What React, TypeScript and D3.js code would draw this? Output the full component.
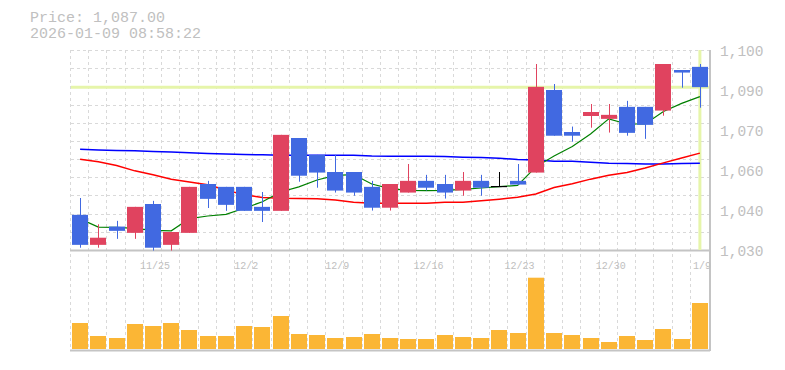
import React from "react";
import * as d3 from "d3";

const dates = ["11/18","11/19","11/20","11/21","11/25","11/26","11/27","11/28","12/1","12/2","12/3","12/4","12/5","12/8","12/9","12/10","12/11","12/12","12/15","12/16","12/17","12/18","12/19","12/22","12/23","12/24","12/25","12/26","12/29","12/30","1/5","1/6","1/7","1/8","1/9"];

const opens = [1042.3,1031.8,1038.2,1036.0,1046.1,1031.8,1036.0,1053.1,1052.1,1052.1,1045.1,1043.7,1069.2,1063.3,1057.3,1057.3,1052.1,1044.8,1050.1,1054.2,1053.1,1050.8,1054.2,1052.2,1054.2,1057.1,1086.0,1071.3,1076.9,1075.9,1080.1,1080.1,1078.8,1093.0,1094.1];
const highs = [1048.2,1039.0,1040.2,1045.1,1047.2,1036.3,1052.1,1054.2,1052.1,1052.1,1050.3,1070.3,1069.2,1063.3,1063.3,1057.3,1054.2,1053.1,1060.1,1056.3,1056.3,1057.3,1056.3,1057.3,1060.1,1095.1,1088.1,1073.2,1081.1,1081.1,1082.2,1080.1,1095.1,1093.0,1095.1];
const lows = [1030.8,1030.8,1033.9,1033.9,1029.8,1029.8,1036.0,1044.7,1043.7,1043.7,1039.8,1043.7,1053.9,1051.8,1050.1,1049.0,1043.8,1043.8,1050.1,1050.8,1048.0,1049.0,1049.0,1052.2,1052.9,1057.1,1070.0,1067.9,1072.8,1071.1,1070.0,1068.9,1077.0,1086.8,1079.8];
const closes = [1031.8,1034.3,1036.7,1045.1,1030.8,1036.3,1052.1,1047.9,1045.8,1043.7,1043.7,1070.3,1056.0,1057.1,1050.8,1050.1,1044.8,1053.1,1054.2,1051.8,1050.1,1054.2,1051.8,1052.2,1052.9,1087.1,1070.0,1070.0,1078.3,1077.3,1071.0,1073.8,1095.1,1092.1,1087.0];
const volumes = [26000,13000,11000,25000,23000,26000,19000,13000,13000,23000,22000,33000,15000,14000,11000,12000,15000,11000,10000,10000,14000,12000,11000,19000,16000,71300,16000,14000,11000,7000,13000,9000,20000,10000,46000];

const maShort = [1040.9,1038.0,1037.9,1037.6,1036.9,1036.7,1041.0,1041.9,1042.5,1044.6,1046.9,1050.3,1052.1,1054.5,1056.1,1056.4,1053.1,1051.5,1050.9,1050.8,1050.9,1051.2,1051.7,1052.2,1052.6,1059.1,1062.9,1066.2,1070.6,1075.9,1074.1,1074.1,1078.5,1081.3,1083.7];
const maMid = [1061.8,1060.9,1059.6,1057.7,1056.3,1054.8,1053.8,1052.8,1051.0,1049.3,1048.4,1048.1,1048.0,1047.9,1047.5,1046.7,1046.4,1046.4,1046.4,1046.4,1046.7,1046.7,1047.2,1047.8,1048.5,1049.6,1051.9,1053.2,1054.8,1056.2,1057.1,1058.7,1060.5,1062.2,1063.9];
const maLong = [1065.3,1065.0,1064.8,1064.7,1064.5,1064.3,1064.0,1063.8,1063.6,1063.4,1063.3,1063.2,1063.2,1063.2,1063.2,1063.2,1062.9,1062.8,1062.8,1062.8,1062.7,1062.5,1062.4,1062.1,1061.7,1061.5,1061.1,1061.1,1060.7,1060.4,1060.3,1060.1,1060.1,1060.3,1060.4];

const xTickLabels = ["11/25","12/2","12/9","12/16","12/23","12/30","1/9"];
const yTickValues = [1030,1044,1058,1072,1086,1100];
const yTickLabels = ["1,030","1,040","1,060","1,070","1,090","1,100"];

const currentPrice = 1087;
const titleLine1 = "Price: 1,087.00";
const titleLine2 = "2026-01-09 08:58:22";

const W = 785, H = 370;
const L = 71, R = 709;
const PT = 50, PB = 250;
const VT = 271, VB = 349;

const UP = "#e0435f";
const DOWN = "#4169e1";
const GRID = "#d9d9d9";
const AXIS = "#c4c4c4";
const TEXT = "#c0c0c0";
const HL = "#e6f5aa";

export default function App() {
  const x = d3.scaleBand<string>().domain(dates).range([L, R]).padding(0);
  const bw = x.bandwidth();
  const cx = (d: string) => (x(d) as number) + bw / 2;
  const y = d3.scaleLinear().domain([1030, 1100]).range([PB, PT]);
  const yv = d3.scaleLinear().domain([0, 78000]).range([VB, VT]);

  const line = (vals: number[]) =>
    d3.line<number>().x((_, i) => cx(dates[i])).y((v) => y(v))(vals) || "";

  const hGrid = d3.range(0, 11).map((k) => PT + (k * (PB - PT)) / 11);
  const vGrid = dates.map((d) => x(d) as number);
  const bodyW = 16;

  return (
    <svg width={W} height={H} style={{ position: "absolute", left: 0, top: 0, background: "#fff" }}>
      <text x={30} y={22} fill={TEXT} fontFamily="Liberation Mono, DejaVu Sans Mono, monospace" fontSize={15}>{titleLine1}</text>
      <text x={30} y={38} fill={TEXT} fontFamily="Liberation Mono, DejaVu Sans Mono, monospace" fontSize={15}>{titleLine2}</text>

      {hGrid.map((gy, i) => (
        <line key={"h" + i} x1={L} x2={R} y1={Math.round(gy) + 0.5} y2={Math.round(gy) + 0.5} stroke={GRID} strokeDasharray="3,3" />
      ))}
      {vGrid.map((gx, i) => (
        <line key={"v" + i} x1={Math.round(gx) - 0.5} x2={Math.round(gx) - 0.5} y1={PT} y2={350} stroke={GRID} strokeDasharray="3,3" />
      ))}

      <line x1={L - 1} x2={R + 1} y1={250.5} y2={250.5} stroke={AXIS} strokeWidth={2} />
      <line x1={L - 1} x2={R + 1} y1={350.5} y2={350.5} stroke={AXIS} strokeWidth={2} />
      <line x1={710} x2={710} y1={PT} y2={351} stroke={AXIS} strokeWidth={2} />

      <line x1={L} x2={R} y1={y(currentPrice)} y2={y(currentPrice)} stroke={HL} strokeWidth={3} />
      <line x1={cx(dates[dates.length - 1])} x2={cx(dates[dates.length - 1])} y1={PT} y2={PB} stroke={HL} strokeWidth={3} />

      <path d={line(maLong)} fill="none" stroke="#0000ff" strokeWidth={1.5} />
      <path d={line(maMid)} fill="none" stroke="#ff0000" strokeWidth={1.5} />
      <path d={line(maShort)} fill="none" stroke="#008000" strokeWidth={1.2} />

      {dates.map((d, i) => {
        const o = opens[i], c = closes[i];
        const color = c > o ? UP : c < o ? DOWN : "#000";
        const left = Math.round(cx(d) - bodyW / 2);
        const wx = left + bodyW / 2 + 0.5;
        const top = y(Math.max(o, c));
        const bot = y(Math.min(o, c));
        return (
          <g key={"c" + i}>
            <line x1={wx} x2={wx} y1={y(highs[i])} y2={y(lows[i])} stroke={color} strokeWidth={1} />
            {c === o ? (
              <line x1={left} x2={left + bodyW} y1={top} y2={top} stroke={color} strokeWidth={1.2} />
            ) : (
              <rect x={left} y={top} width={bodyW} height={Math.max(1, bot - top)} fill={color} />
            )}
          </g>
        );
      })}

      {dates.map((d, i) => {
        const left = Math.round(cx(d) - bodyW / 2);
        return <rect key={"vol" + i} x={left} y={yv(volumes[i])} width={bodyW} height={VB - yv(volumes[i])} fill="#fbb635" />;
      })}

      {xTickLabels.map((t) => (
        <text key={t} x={cx(t) + 2} y={269} textAnchor="middle" fill={TEXT} fontFamily="Liberation Mono, DejaVu Sans Mono, monospace" fontSize={10}>{t}</text>
      ))}
      {yTickValues.map((v, i) => (
        <text key={v} x={720} y={y(v) + 2} dominantBaseline="middle" fill={TEXT} fontFamily="Liberation Mono, DejaVu Sans Mono, monospace" fontSize={14.5}>{yTickLabels[i]}</text>
      ))}
    </svg>
  );
}
